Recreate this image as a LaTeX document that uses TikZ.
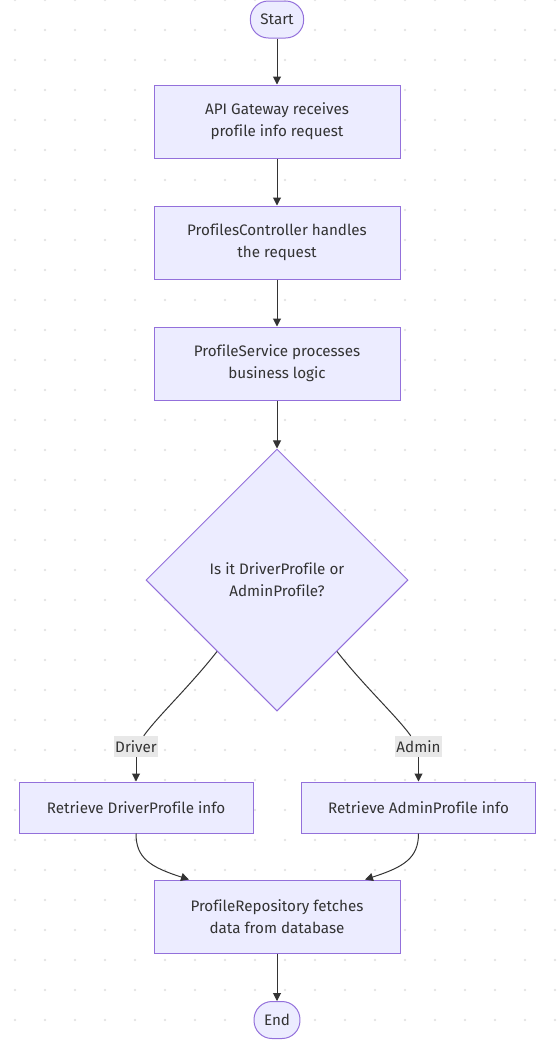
\documentclass[tikz,border=0pt]{standalone}
\usepackage{fontspec}
\setmainfont{Fira Sans}[Ligatures=NoCommon]
\usepackage{xcolor}
\usetikzlibrary{shapes.geometric,arrows.meta}
\definecolor{boxfill}{HTML}{ECECFF}
\definecolor{boxline}{HTML}{9370DB}
\definecolor{ink}{HTML}{333333}
\definecolor{lblfill}{HTML}{E8E8E8}
\definecolor{dotc}{HTML}{E3E3E3}

\begin{document}
\begin{tikzpicture}[x=1pt, y=-1pt,
	font=\fontsize{15.2}{22}\selectfont, text=ink,
	proc/.style={draw=boxline, fill=boxfill, line width=1pt, minimum width=246pt, minimum height=73pt, inner sep=0pt, align=center},
	pick/.style={draw=boxline, fill=boxfill, line width=1pt, minimum width=234pt, minimum height=51pt, inner sep=0pt, align=center},
	term/.style={draw=boxline, fill=boxfill, line width=1pt, rounded corners=18pt, minimum height=37pt, inner xsep=10pt, inner ysep=0pt},
	choice/.style={diamond, draw=boxline, fill=boxfill, line width=1pt, minimum width=262pt, minimum height=262pt, inner sep=0pt, align=center},
	lbl/.style={fill=lblfill, inner xsep=1pt, inner ysep=0pt, minimum height=21pt},
	wire/.style={draw=ink, line width=1pt},
	flow/.style={wire, -{Triangle[length=8pt,width=8pt]}}]
	\useasboundingbox (0,0) rectangle (558,1042);
	% Background dots:
	\foreach \i in {0,...,18}{
		\foreach \j in {0,...,34}{
			\fill[dotc] (15+30*\i, 30*\j) circle (1.3pt);
		}
	}
	% Nodes:
	\node[term](N1) at (277, 19.5){Start};
	\node[proc](N2) at (277, 121.5){API Gateway receives\\profile info request};
	\node[proc](N3) at (277, 242.5){ProfilesController handles\\the request};
	\node[proc](N4) at (277, 363.5){ProfileService processes\\business logic};
	\node[choice](N5) at (277, 580){Is it DriverProfile or\\AdminProfile?};
	\node[pick](N6) at (136, 807.5){Retrieve DriverProfile info};
	\node[pick](N7) at (418.5, 807.5){Retrieve AdminProfile info};
	\node[proc](N8) at (277, 916.5){ProfileRepository fetches\\data from database};
	\node[term](N9) at (277, 1020){End};
	\node[lbl](L1) at (136, 746.5){Driver};
	\node[lbl](L2) at (418.5, 746.5){Admin};
	% Connectors:
	\draw[flow] (N1) -- (N2);
	\draw[flow] (N2) -- (N3);
	\draw[flow] (N3) -- (N4);
	\draw[flow] (N4) -- (N5);
	\draw[wire] (N5.230) .. controls (190, 686) and (158, 716) .. (L1);
	\draw[flow] (L1) -- (N6);
	\draw[wire] (N5.310) .. controls (364, 686) and (396.5, 716) .. (L2);
	\draw[flow] (L2) -- (N7);
	\draw[flow] (N6) .. controls (136, 858) and (150, 867) .. ([xshift=-88pt]N8.north);
	\draw[flow] (N7) .. controls (418.5, 858) and (404, 867) .. ([xshift=88pt]N8.north);
	\draw[flow] (N8) -- (N9);
\end{tikzpicture}
\end{document}
